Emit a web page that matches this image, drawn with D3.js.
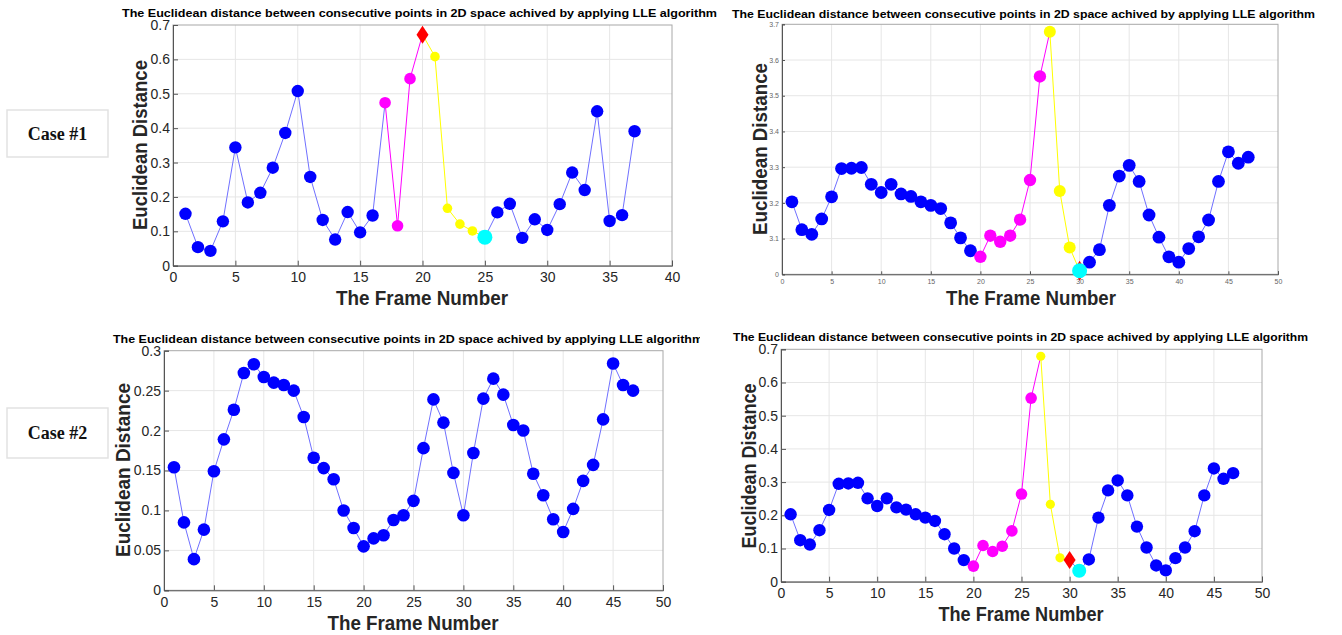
<!DOCTYPE html>
<html><head><meta charset="utf-8">
<script src="https://cdn.jsdelivr.net/npm/d3@7"></script>
<style>body{margin:0;background:#fff;} svg{display:block;}</style>
</head><body>
<svg id="chart" width="1342" height="635"></svg>
<script>
// ---------- DATA ----------
const titleText = "The Euclidean distance between consecutive points in 2D space achived by applying LLE algorithm";
const xAxisTitle = "The Frame Number";
const yAxisTitle = "Euclidean Distance";
const caseLabels = ["Case #1", "Case #2"];

// Case #1, left chart
const c1aValues = [0.151,0.054,0.043,0.129,0.344,0.184,0.212,0.285,0.386,0.508,
  0.258,0.133,0.076,0.156,0.097,0.146,0.474,0.116,0.544,0.672,
  0.608,0.167,0.121,0.101,0.083,0.155,0.180,0.081,0.135,0.104,
  0.179,0.271,0.220,0.449,0.130,0.147,0.391];
const c1aMagentaDots = [17,19], c1aYellowDots = [21,24], c1aRed = 20, c1aCyan = 25;
const c1aMagentaSegs = [17,19], c1aYellowSegs = [20,24];
const c1aXTicks = [0,5,10,15,20,25,30,35,40];
const c1aYTicks = [0,0.1,0.2,0.3,0.4,0.5,0.6,0.7];
const c1aYTickLabels = ["0","0.1","0.2","0.3","0.4","0.5","0.6","0.7"];

// Case #1, right chart
const c1bValues = [0.203,0.125,0.112,0.155,0.217,0.296,0.297,0.299,0.252,0.229,
  0.252,0.225,0.218,0.203,0.193,0.184,0.144,0.102,0.066,0.049,
  0.108,0.091,0.108,0.153,0.264,0.554,0.679,0.233,0.075,0.010,
  0.034,0.069,0.193,0.275,0.305,0.260,0.166,0.104,0.049,0.034,
  0.072,0.105,0.152,0.260,0.343,0.311,0.328];
const c1bMagentaDots = [20,26], c1bYellowDots = [27,29], c1bRed = 30, c1bCyan = 30;
const c1bMagentaSegs = [20,26], c1bYellowSegs = [27,29];
const c1bXTicks = [0,5,10,15,20,25,30,35,40,45,50];
const c1bYTicks = [0,0.1,0.2,0.3,0.4,0.5,0.6,0.7];
const c1bYTickLabels = ["0","3.1","3.2","3.3","3.4","3.5","3.6","3.7"];

// Case #2, left chart
const c2aValues = [0.154,0.085,0.039,0.076,0.149,0.189,0.226,0.272,0.283,0.267,
  0.260,0.257,0.250,0.217,0.166,0.153,0.139,0.100,0.078,0.055,
  0.065,0.069,0.088,0.094,0.112,0.178,0.239,0.210,0.147,0.094,
  0.172,0.240,0.265,0.245,0.207,0.200,0.146,0.119,0.089,0.073,
  0.102,0.137,0.157,0.214,0.284,0.257,0.250];
const c2aXTicks = [0,5,10,15,20,25,30,35,40,45,50];
const c2aYTicks = [0,0.05,0.1,0.15,0.2,0.25,0.3];
const c2aYTickLabels = ["0","0.05","0.1","0.15","0.2","0.25","0.3"];

// Case #2, right chart
const c2bValues = [0.203,0.125,0.112,0.155,0.216,0.295,0.296,0.298,0.251,0.228,
  0.251,0.224,0.217,0.203,0.193,0.183,0.143,0.100,0.065,0.047,
  0.109,0.091,0.107,0.153,0.264,0.553,0.679,0.233,0.072,0.065,
  0.033,0.067,0.193,0.275,0.305,0.260,0.166,0.103,0.049,0.034,
  0.071,0.103,0.152,0.260,0.341,0.310,0.327];
const c2bMagentaDots = [20,26], c2bYellowDots = [27,29], c2bRed = 30, c2bCyan = 31;
const c2bMagentaSegs = [20,26], c2bYellowSegs = [27,29];
const c2bXTicks = [0,5,10,15,20,25,30,35,40,45,50];
const c2bYTicks = [0,0.1,0.2,0.3,0.4,0.5,0.6,0.7];
const c2bYTickLabels = ["0","0.1","0.2","0.3","0.4","0.5","0.6","0.7"];

// ---------- CHART ----------
const svg = d3.select('#chart');
const panels = [
  {values:c1aValues, mag:c1aMagentaDots, yel:c1aYellowDots, red:c1aRed, cyan:c1aCyan,
   magSeg:c1aMagentaSegs, yelSeg:c1aYellowSegs, xTicks:c1aXTicks, yTicks:c1aYTicks, yLabels:c1aYTickLabels,
   L:{l:173,r:672,b:265.7,t:25, tx:122,ty:13,tlen:595, ylx:140,yly:145,yllen:170, xlx:422,xly:298,xllen:172, tf:14, clipR:null,
      rb:6.2, rm:5.8, ry:4.8, rc:7.5, dw:6, dh:9}},
  {values:c1bValues, mag:c1bMagentaDots, yel:c1bYellowDots, red:c1bRed, cyan:c1bCyan,
   magSeg:c1bMagentaSegs, yelSeg:c1bYellowSegs, xTicks:c1bXTicks, yTicks:c1bYTicks, yLabels:c1bYTickLabels,
   L:{l:782,r:1278,b:274.3,t:24.3, tx:732,ty:14,tlen:583, ylx:760,yly:149,yllen:172, xlx:1031,xly:298,xllen:170, tf:7, clipR:null,
      rb:6.4, rm:6.2, ry:6, rc:7.5, dw:6, dh:10}},
  {values:c2aValues, mag:null, yel:null, red:null, cyan:null,
   magSeg:null, yelSeg:null, xTicks:c2aXTicks, yTicks:c2aYTicks, yLabels:c2aYTickLabels,
   L:{l:164,r:663,b:590.3,t:350.7, tx:113,ty:339,tlen:590, ylx:123,yly:470,yllen:174, xlx:413,xly:623,xllen:171, tf:14, clipR:700,
      rb:6.3}},
  {values:c2bValues, mag:c2bMagentaDots, yel:c2bYellowDots, red:c2bRed, cyan:c2bCyan,
   magSeg:c2bMagentaSegs, yelSeg:c2bYellowSegs, xTicks:c2bXTicks, yTicks:c2bYTicks, yLabels:c2bYTickLabels,
   L:{l:781,r:1262,b:581.7,t:349.3, tx:733,ty:336.5,tlen:575, ylx:749,yly:466,yllen:165, xlx:1021,xly:614,xllen:165, tf:14, clipR:null,
      rb:6.2, rm:5.8, ry:4.6, rc:7, dw:6, dh:9}}
];

const BLUE = '#0000ff', LINE = '#7070ff', MAG = '#ff00ff', YEL = '#ffff00', CYAN = '#00ffff', RED = '#ff0000';
const inR = (f, r) => r && f >= r[0] && f <= r[1];

// case boxes
const caseBoxes = [{y:110, h:47}, {y:408, h:50}];
caseLabels.forEach((c, i) => {
  const b = caseBoxes[i];
  svg.append('rect').attr('x', 7).attr('y', b.y).attr('width', 101).attr('height', b.h)
    .attr('fill', '#fff').attr('stroke', '#e2e2e2').attr('stroke-width', 1.5);
  svg.append('text').attr('x', 57.5).attr('y', b.y + b.h/2).attr('dy', '0.35em')
    .attr('text-anchor', 'middle').attr('font-family', 'Liberation Serif, serif')
    .attr('font-weight', 'bold').attr('font-size', 18).attr('fill', '#111').text(c);
});

panels.forEach((p, pi) => {
  const L = p.L;
  const xMax = p.xTicks[p.xTicks.length - 1];
  const yMax = p.yTicks[p.yTicks.length - 1];
  const x = d3.scaleLinear().domain([0, xMax]).range([L.l, L.r]);
  const y = d3.scaleLinear().domain([0, yMax]).range([L.b, L.t]);
  const g = svg.append('g');
  const data = p.values.map((v, i) => ({f: i + 1, v}));

  // grid
  g.append('g').selectAll('line.vg').data(p.xTicks.slice(1, -1)).join('line')
    .attr('x1', d => x(d)).attr('x2', d => x(d)).attr('y1', L.t).attr('y2', L.b)
    .attr('stroke', '#e6e6e6').attr('stroke-width', 1);
  g.append('g').selectAll('line.hg').data(p.yTicks.slice(1, -1)).join('line')
    .attr('x1', L.l).attr('x2', L.r).attr('y1', d => y(d)).attr('y2', d => y(d))
    .attr('stroke', '#e6e6e6').attr('stroke-width', 1);

  // box (top/right)
  g.append('rect').attr('x', L.l).attr('y', L.t).attr('width', L.r - L.l).attr('height', L.b - L.t)
    .attr('fill', 'none').attr('stroke', '#a8a8a8').attr('stroke-width', 1);

  // axes
  const tl = L.tf < 10 ? 3 : 5;
  const xAxis = d3.axisBottom(x).tickValues(p.xTicks).tickSize(-tl).tickPadding(L.tf < 10 ? 5 : 4).tickFormat(d3.format('d'));
  const yAxis = d3.axisLeft(y).tickValues(p.yTicks).tickSize(-tl).tickPadding(3)
    .tickFormat((d, i) => p.yLabels[i]);
  const tickColor = L.tf < 10 ? '#666' : '#262626';
  const ax = g.append('g').attr('transform', `translate(0,${L.b})`).call(xAxis);
  const ay = g.append('g').attr('transform', `translate(${L.l},0)`).call(yAxis);
  [ax, ay].forEach(a => {
    a.select('.domain').attr('stroke', '#555').attr('stroke-width', 1);
    a.selectAll('.tick line').attr('stroke', '#555');
    a.selectAll('.tick text').attr('font-family', 'Liberation Sans, Arial, sans-serif')
      .attr('font-size', L.tf).attr('fill', tickColor);
  });
  if (L.tf >= 10) ax.selectAll('.tick text').attr('dy', '0.9em');

  // line segments
  const segs = data.slice(0, -1).map((d, i) => ({a: d, b: data[i + 1]}));
  g.append('g').selectAll('line.seg').data(segs).join('line')
    .attr('x1', d => x(d.a.f)).attr('y1', d => y(d.a.v))
    .attr('x2', d => x(d.b.f)).attr('y2', d => y(d.b.v))
    .attr('stroke', d => inR(d.a.f, p.magSeg) ? MAG : inR(d.a.f, p.yelSeg) ? YEL : LINE)
    .attr('stroke-width', 1);

  // dots
  const plain = data.filter(d => d.f !== p.red && d.f !== p.cyan);
  g.append('g').selectAll('circle').data(plain).join('circle')
    .attr('cx', d => x(d.f)).attr('cy', d => y(d.v))
    .attr('r', d => inR(d.f, p.mag) ? L.rm : inR(d.f, p.yel) ? L.ry : L.rb)
    .attr('fill', d => inR(d.f, p.mag) ? MAG : inR(d.f, p.yel) ? YEL : BLUE);
  if (p.red) {
    const d = data[p.red - 1];
    const cx = x(d.f), cy = y(d.v);
    g.append('path').attr('d', `M${cx},${cy - L.dh}L${cx + L.dw},${cy}L${cx},${cy + L.dh}L${cx - L.dw},${cy}Z`)
      .attr('fill', RED);
  }
  if (p.cyan) {
    const d = data[p.cyan - 1];
    g.append('circle').attr('cx', x(d.f)).attr('cy', y(d.v)).attr('r', L.rc).attr('fill', CYAN);
  }

  // title
  let tg = svg.append('g');
  if (L.clipR) {
    svg.append('clipPath').attr('id', 'tclip' + pi).append('rect')
      .attr('x', 0).attr('y', L.ty - 15).attr('width', L.clipR).attr('height', 30);
    tg.attr('clip-path', `url(#tclip${pi})`);
  }
  tg.append('text').attr('x', L.tx).attr('y', L.ty).attr('dy', '0.35em')
    .attr('font-family', 'Liberation Sans, Arial, sans-serif').attr('font-weight', 'bold')
    .attr('font-size', 11.5).attr('fill', '#000')
    .attr('textLength', L.tlen).attr('lengthAdjust', 'spacingAndGlyphs').text(titleText);

  // axis titles
  svg.append('text').attr('transform', `translate(${L.ylx},${L.yly}) rotate(-90)`).attr('dy', '0.35em')
    .attr('text-anchor', 'middle').attr('font-family', 'Liberation Sans, Arial, sans-serif')
    .attr('font-weight', 'bold').attr('font-size', 20).attr('fill', '#262626')
    .attr('textLength', L.yllen).attr('lengthAdjust', 'spacingAndGlyphs').text(yAxisTitle);
  svg.append('text').attr('x', L.xlx).attr('y', L.xly).attr('dy', '0.35em')
    .attr('text-anchor', 'middle').attr('font-family', 'Liberation Sans, Arial, sans-serif')
    .attr('font-weight', 'bold').attr('font-size', 20).attr('fill', '#262626')
    .attr('textLength', L.xllen).attr('lengthAdjust', 'spacingAndGlyphs').text(xAxisTitle);
});
</script>
</body></html>
